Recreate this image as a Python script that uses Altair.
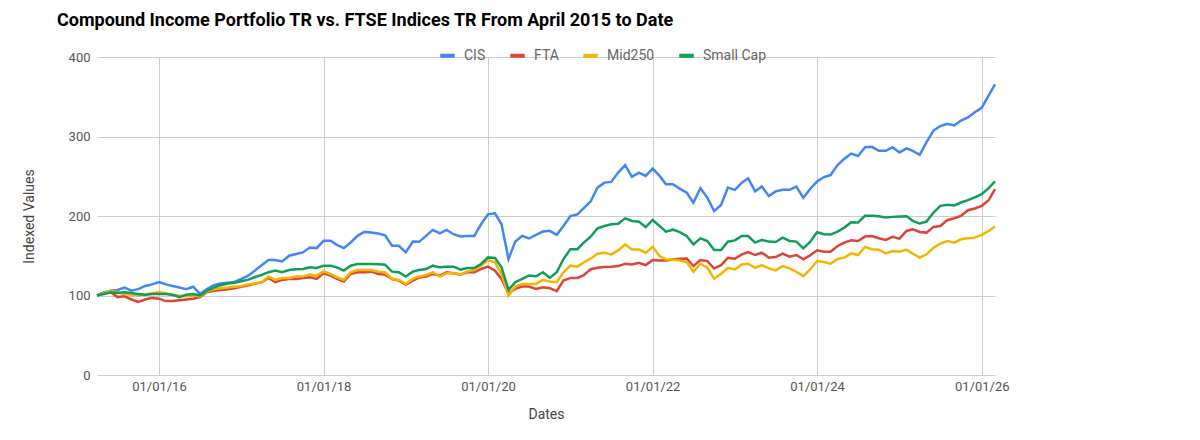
import altair as alt
import pandas as pd

dates = pd.date_range("2015-04-01", periods=132, freq="MS").strftime("%Y-%m-%d").tolist()

cis = [100,104,106,107,110,106,108,112,114,117,114,112,110,108,111,102,108,113,115,116,117,121,125,131,138,
       144.6,144.6,142.9,150,152.1,154.2,160.4,159.6,168.8,168.8,163.8,159.6,166.7,175,180,179.2,177.9,175.8,162.5,162.5,154.2,167.9,167.5,
       175,182.5,178.3,182.5,177.1,174.2,175,175,189.6,202.1,203.3,189.6,145.8,167.9,175,171.7,176.3,180.4,181.3,176.3,187.5,200,202.1,
       210,218.5,235.7,242,242.9,254.6,263.9,249.2,254.6,250.4,259.7,250.4,239.9,239.9,234.5,229.4,216.8,234.9,223.1,206.3,213.9,235.7,232.8,242,247.5,
       231,237,225,231,233,233,237,223,234,243.5,249,251.5,264,272,278.5,275.5,286.5,287,282,282,286.5,280,285,282,277,293,307.5,313,316,314,320,324,330.5,336,351.7,365.6]

fta = [100,103,104,98,99,95,92,95,97,96,93,93,94,95,96,98,104,106,107,108,109,111,113,114.6,116.7,
       122.1,116.7,119.6,120.8,120.8,122.1,122.9,120.8,127.9,125,120.8,117.5,127.1,129.2,129.2,130,127.1,126.3,120.8,118.8,113.8,118.8,122.5,
       123.8,127.1,125,129.2,127.9,126.3,129.2,129.2,133.3,136.3,131.3,120.8,102.5,108.3,111.3,111.3,108.3,110.4,109.2,105.4,118.8,122.1,122.1,
       125.5,133,134.9,135.7,136.1,137,139.9,139.1,141.2,138.2,144.5,144.1,144.1,145.4,146.2,146.6,137,144.5,143.3,134,138.2,147.5,146.2,151.7,154.6,
       150.9,153.9,147.6,148.4,152.6,148.8,150.9,145.5,150.5,156.8,155.1,155.1,162.3,166.5,169.4,168.6,174.1,174.9,172,169.9,173.7,171.5,181.2,183.3,180,179.1,186.3,187.5,194.7,197.2,200.2,207.3,209.4,212.8,219.9,233.8]

mid250 = [100,103,106,104,102,101,100,101,103,104,103,100,100,99,100,99,105,108,109,110,111,112,114,115.4,116.7,
          123.8,119.6,122.1,122.1,123.8,123.8,126.3,125,130.4,127.1,122.9,119.6,129.2,132.1,132.1,132.1,130,129.2,120.8,119.6,114.6,120.8,124,
          125.8,129.2,123.8,127.9,127.9,126.3,130.4,132.1,137.5,144.6,141.7,127.1,100,111.3,114.6,114.6,114.6,119.6,117.5,116.7,129.2,137.5,136.3,
          141.5,146.5,152.5,153.8,151.7,156.7,164.3,158,158,153.8,161.3,149.6,145.4,145.4,144.1,142,129.8,139.9,134.9,121,127.3,134.9,132.8,139.1,139.9,
          134.9,138.3,134.1,131.6,137,134.1,129.9,124.4,132.8,143.4,142.1,140,145.9,147.6,153,150.9,161,158.1,157.7,153,156,155.1,157.7,152.6,147.6,151.8,160.2,165.2,168.6,166.5,170.7,172,172.8,176.2,181.2,186.7]

small_cap = [100,102,104,103,104,103,102,101,102,102,102,101,98,101,102,100,106,110,113,115,116,118,120,123,126,
             129.2,131.3,129.2,132.1,132.9,133.3,135.4,134.6,137.5,137.5,135.4,131.3,137.5,139.6,139.6,139.6,139.2,138.8,130,129.2,123.8,130,132,
             133.3,137.5,135.4,136.3,136.3,132.5,134.6,134.6,139.6,147.9,147.1,135.4,107,116.7,120.8,125,124.2,129.2,122.1,129.2,145.8,158.3,158.3,
             166.5,174,184.5,187.4,189.5,190.3,197.1,193.7,192.9,186.1,195,187.4,180.3,182.8,179.8,174.8,164.3,171.8,168.5,157.1,157.1,167.6,169.3,174.8,174.8,
             166.5,169.9,167.8,167.3,172.8,168.6,167.8,159.3,167.3,179.5,177,176.6,180.4,185.4,192.2,191.8,200.2,200.2,199.7,198.1,198.9,199.3,199.7,193.9,190.5,193,204.4,212.8,214.1,213.2,217,219.9,223.3,227.5,235.1,243.5]

series_names = ["CIS", "FTA", "Mid250", "Small Cap"]
series_colors = ["#4285F4", "#DB4437", "#F4B400", "#0F9D58"]
y_ticks = [0, 100, 200, 300, 400]
x_tick_years = [2016, 2018, 2020, 2022, 2024, 2026]

rows = []
for name, vals in zip(series_names, [cis, fta, mid250, small_cap]):
    for d, v in zip(dates, vals):
        rows.append({"Date": d, "Series": name, "Value": v})
df = pd.DataFrame(rows)

FONT = "Roboto"

chart = alt.Chart(df).mark_line(strokeWidth=2.5, interpolate="linear").encode(
    x=alt.X("Date:T",
            scale=alt.Scale(type="utc", domain=[alt.DateTime(year=2015, month=4, date=1, utc=True),
                                                alt.DateTime(year=2026, month=3, date=1, utc=True)]),
            axis=alt.Axis(title="Dates", format="%d/%m/%y",
                          values=[alt.DateTime(year=y, month=1, date=1, utc=True) for y in x_tick_years],
                          grid=True, gridColor="#cccccc", domain=False, ticks=False,
                          labelFont=FONT, labelFontSize=13, labelColor="#555555", labelPadding=5,
                          titleFont=FONT, titleFontSize=14, titleFontWeight="normal", titleColor="#444444",
                          titlePadding=14)),
    y=alt.Y("Value:Q",
            scale=alt.Scale(domain=[0, 400], nice=False),
            axis=alt.Axis(title="Indexed Values", values=y_ticks,
                          grid=True, gridColor="#cccccc", domain=False, ticks=False,
                          labelFont=FONT, labelFontSize=13, labelColor="#555555", labelPadding=7,
                          titleFont=FONT, titleFontSize=14, titleFontWeight="normal", titleColor="#444444",
                          titlePadding=32)),
    color=alt.Color("Series:N",
                    scale=alt.Scale(domain=series_names, range=series_colors),
                    legend=alt.Legend(title=None, orient="none", direction="horizontal",
                                      legendX=341, legendY=-11,
                                      symbolType="stroke", symbolStrokeWidth=4, symbolSize=210,
                                      labelFont=FONT, labelFontSize=14, labelColor="#666666",
                                      columnPadding=16, labelOffset=7)),
).properties(
    width=898,
    height=318,
    autosize=alt.AutoSizeParams(type="none"),
    padding={"left": 89, "top": 49, "right": 180, "bottom": 55},
    title=alt.TitleParams("Compound Income Portfolio TR vs. FTSE Indices TR From April 2015 to Date",
                          anchor="start", frame="group", dx=-40, offset=16,
                          font=FONT, fontSize=18, fontWeight="bold", color="#000000"),
).configure_view(stroke=None)

chart.save("out.html", embed_options={"renderer": "svg", "actions": False})
